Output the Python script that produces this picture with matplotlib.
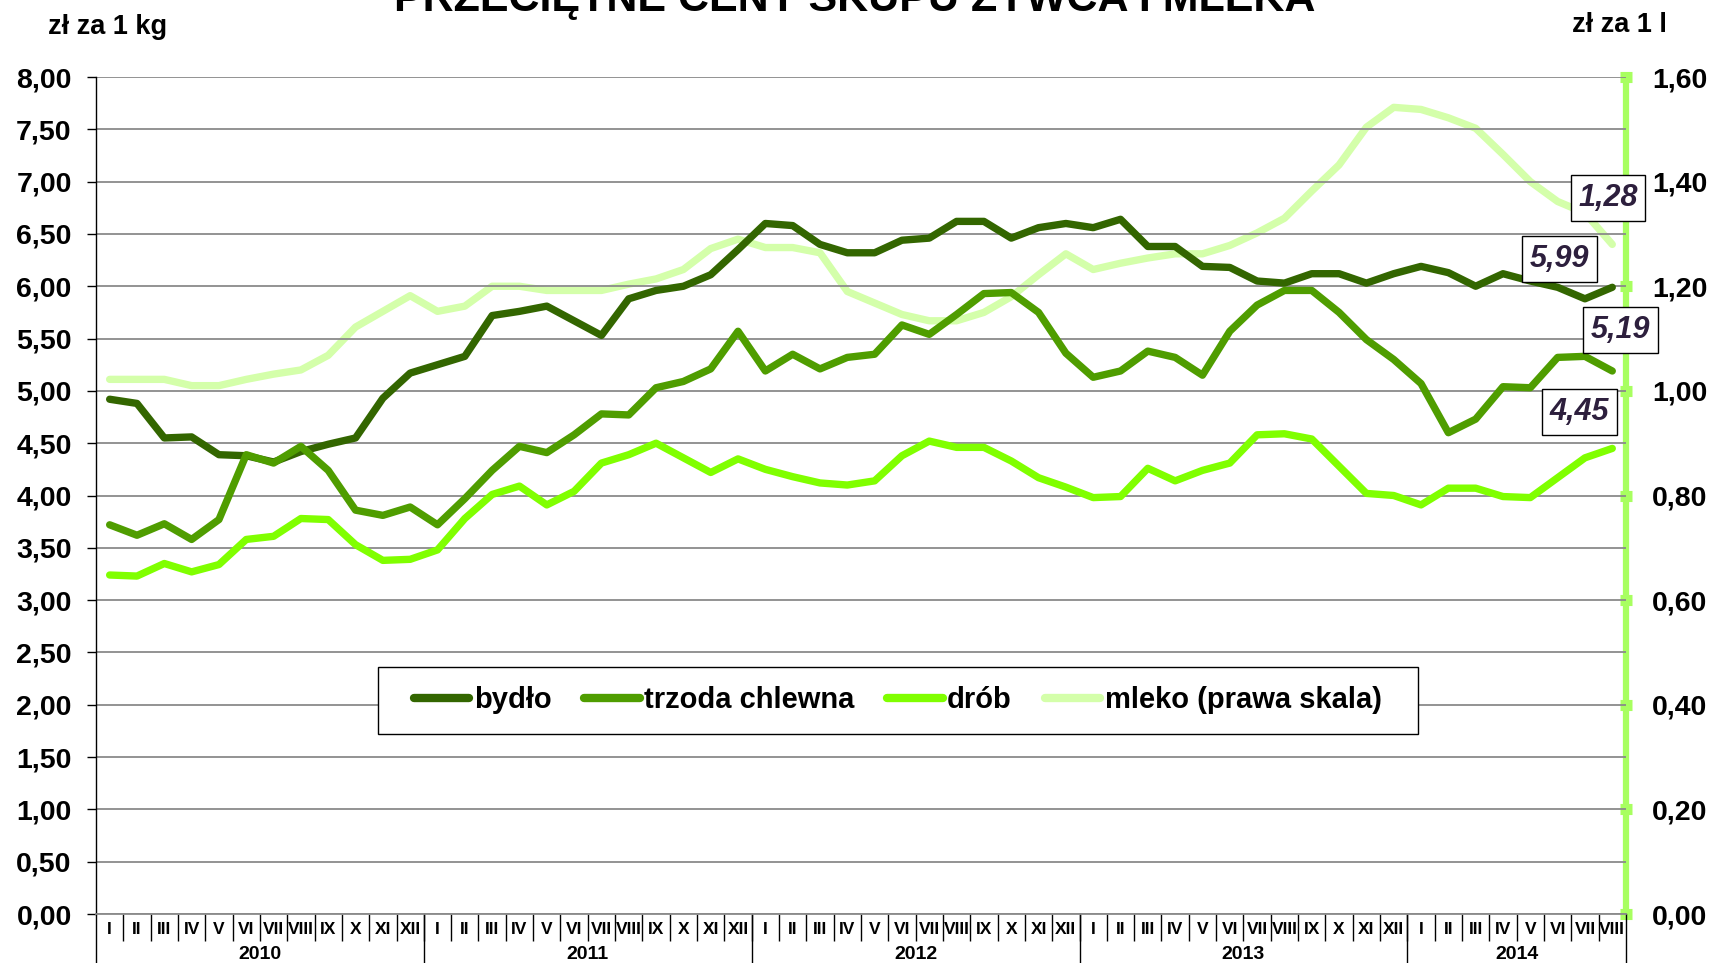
import matplotlib
matplotlib.use('Agg')
import matplotlib.pyplot as plt
from matplotlib.patches import Rectangle
from matplotlib.transforms import blended_transform_factory

plt.rcParams['font.family'] = ['Liberation Sans', 'DejaVu Sans']
plt.rcParams['font.weight'] = 'bold'

# Monthly purchase prices, 2010 I .. 2014 VIII
months = ['I', 'II', 'III', 'IV', 'V', 'VI', 'VII', 'VIII', 'IX', 'X', 'XI', 'XII']
years = ['2010', '2011', '2012', '2013', '2014']
month_labels = months * 4 + months[:8]

bydlo = [4.92, 4.88, 4.55, 4.56, 4.39, 4.38, 4.32, 4.42, 4.49, 4.55, 4.93, 5.17,
         5.25, 5.33, 5.72, 5.76, 5.81, 5.67, 5.53, 5.88, 5.96, 6.00, 6.11, 6.35,
         6.60, 6.58, 6.40, 6.32, 6.32, 6.44, 6.46, 6.62, 6.62, 6.46, 6.56, 6.60,
         6.56, 6.64, 6.38, 6.38, 6.19, 6.18, 6.05, 6.03, 6.12, 6.12, 6.03, 6.12,
         6.19, 6.13, 6.00, 6.12, 6.05, 5.99, 5.88, 5.99]
trzoda = [3.72, 3.62, 3.73, 3.58, 3.77, 4.39, 4.31, 4.47, 4.24, 3.86, 3.81, 3.89,
          3.72, 3.97, 4.24, 4.47, 4.41, 4.58, 4.78, 4.77, 5.03, 5.09, 5.21, 5.57,
          5.19, 5.35, 5.21, 5.32, 5.35, 5.63, 5.54, 5.73, 5.93, 5.94, 5.75, 5.36,
          5.13, 5.19, 5.38, 5.32, 5.15, 5.57, 5.82, 5.96, 5.96, 5.75, 5.49, 5.30,
          5.07, 4.60, 4.73, 5.04, 5.03, 5.32, 5.33, 5.19]
drob = [3.24, 3.23, 3.35, 3.27, 3.34, 3.58, 3.61, 3.78, 3.77, 3.53, 3.38, 3.39,
        3.48, 3.78, 4.01, 4.09, 3.91, 4.04, 4.31, 4.39, 4.50, 4.36, 4.22, 4.35,
        4.25, 4.18, 4.12, 4.10, 4.14, 4.38, 4.52, 4.46, 4.46, 4.33, 4.17, 4.08,
        3.98, 3.99, 4.26, 4.14, 4.24, 4.31, 4.58, 4.59, 4.54, 4.28, 4.02, 4.00,
        3.91, 4.07, 4.07, 3.99, 3.98, 4.17, 4.36, 4.45]
mleko = [1.022, 1.022, 1.022, 1.010, 1.010, 1.022, 1.032, 1.040, 1.068, 1.122, 1.152, 1.182,
         1.152, 1.162, 1.200, 1.200, 1.192, 1.192, 1.192, 1.204, 1.214, 1.232, 1.272, 1.290,
         1.274, 1.274, 1.264, 1.190, 1.168, 1.146, 1.134, 1.134, 1.150, 1.180, 1.222, 1.262,
         1.232, 1.244, 1.254, 1.262, 1.262, 1.278, 1.302, 1.330, 1.382, 1.432, 1.504, 1.542,
         1.538, 1.522, 1.502, 1.452, 1.400, 1.362, 1.340, 1.28]

c_bydlo = '#336600'
c_trzoda = '#4f9d00'
c_drob = '#80ff00'
c_mleko = '#d4ffaa'
c_axis2 = '#a8ff60'

x = list(range(len(bydlo)))

fig = plt.figure(figsize=(17.1, 9.63), dpi=100)
ax = fig.add_axes([0.05614, 0.05088, 0.8947, 0.86916])
ax2 = ax.twinx()
ax.set_zorder(ax2.get_zorder() + 1)
ax.patch.set_visible(False)

lw = 5.3
ax2.plot(x, mleko, color=c_mleko, lw=lw, solid_capstyle='round', solid_joinstyle='round')
l1, = ax.plot(x, bydlo, color=c_bydlo, lw=lw, solid_capstyle='round', solid_joinstyle='round')
l2, = ax.plot(x, trzoda, color=c_trzoda, lw=lw, solid_capstyle='round', solid_joinstyle='round')
l3, = ax.plot(x, drob, color=c_drob, lw=lw, solid_capstyle='round', solid_joinstyle='round')
l4, = ax.plot([], [], color=c_mleko, lw=lw, solid_capstyle='round')

ax.set_xlim(-0.5, len(x) - 0.5)
ax.set_ylim(0, 8)
ax2.set_ylim(0, 1.6)

# left axis
yt = [i * 0.5 for i in range(17)]
ax.set_yticks(yt)
ax.set_yticklabels([f'{v:.2f}'.replace('.', ',') for v in yt], fontsize=20.5, fontweight='bold')
ax.tick_params(axis='y', direction='out', length=6.5, width=1, color='black', pad=11)
ax.grid(axis='y', color='#8a8a8a', lw=1.3)
ax.set_axisbelow(True)

# right axis
yt2 = [i * 0.2 for i in range(9)]
ax2.set_yticks(yt2)
ax2.set_yticklabels([f'{v:.2f}'.replace('.', ',') for v in yt2], fontsize=20.5, fontweight='bold')
ax2.tick_params(axis='y', direction='inout', length=8, width=8, color=c_axis2, pad=15)

for s in ['top', 'right']:
    ax.spines[s].set_visible(False)
ax.spines['left'].set_color('black')
ax.spines['left'].set_linewidth(1)
ax.spines['bottom'].set_color('#8a8a8a')
ax.spines['bottom'].set_linewidth(1.3)
for s in ['top', 'left', 'bottom']:
    ax2.spines[s].set_visible(False)
ax2.spines['right'].set_color(c_axis2)
ax2.spines['right'].set_linewidth(4.5)

# category axis: months and years
ax.set_xticks(x)
ax.set_xticklabels(month_labels, fontsize=12.5, fontweight='bold')
ax.tick_params(axis='x', which='major', length=0, pad=5.5)
ax.set_xticks([i - 0.5 for i in range(1, len(x))], minor=True)
ax.tick_params(axis='x', which='minor', length=19.5, width=1, color='black')

trans = blended_transform_factory(ax.transData, fig.transFigure)
year_bounds = [-0.5, 11.5, 23.5, 35.5, 47.5, len(x) - 0.5]
for b in year_bounds:
    ax.plot([b, b], [0, 0.0509], transform=trans, color='black', lw=1, clip_on=False)
for k, yr in enumerate(years):
    mid = (year_bounds[k] + year_bounds[k + 1]) / 2
    ax.text(mid, 0.0085, yr, transform=trans, ha='center', va='center',
            fontsize=14, fontweight='bold')

# titles and units
fig.text(0.5, 0.9886, 'PRZECIĘTNE CENY SKUPU ŻYWCA I MLEKA', ha='center', va='baseline',
         fontsize=31, fontweight='bold')
fig.text(0.028, 0.972, 'zł za 1 kg', ha='left', va='center', fontsize=19.5, fontweight='bold')
fig.text(0.9749, 0.974, 'zł za 1 l', ha='right', va='center', fontsize=19.5, fontweight='bold')

# end-value labels
box = dict(boxstyle='square,pad=0.25', fc='white', ec='black', lw=1)
lab_kw = dict(textcoords='offset points', ha='center', va='center', fontsize=22,
              fontweight='bold', fontstyle='italic', color='#2d1f3d', bbox=box,
              annotation_clip=False, zorder=10)
ax.annotate(f'{mleko[-1]:.2f}'.replace('.', ','), xy=(x[-1], mleko[-1] * 5),
            xytext=(-3, 33.5), **lab_kw)
ax.annotate(f'{bydlo[-1]:.2f}'.replace('.', ','), xy=(x[-1], bydlo[-1]),
            xytext=(-38, 20.4), **lab_kw)
ax.annotate(f'{trzoda[-1]:.2f}'.replace('.', ','), xy=(x[-1], trzoda[-1]),
            xytext=(5.8, 29.5), **lab_kw)
ax.annotate(f'{drob[-1]:.2f}'.replace('.', ','), xy=(x[-1], drob[-1]),
            xytext=(-23.8, 26.3), **lab_kw)

# legend with its own frame (wider horizontal padding as in the original)
ax.add_patch(Rectangle((378 / 1710, 1 - 734 / 963), 1040 / 1710, 67 / 963,
                       transform=fig.transFigure, fc='white', ec='black',
                       lw=1, zorder=4.5, clip_on=False))
leg = ax.legend([l1, l2, l3, l4], ['bydło', 'trzoda chlewna', 'drób', 'mleko (prawa skala)'],
                loc='center', bbox_to_anchor=(0.525, 0.2726), bbox_transform=fig.transFigure,
                ncol=4, handlelength=1.9, handletextpad=0.15,
                columnspacing=1.13, frameon=False,
                prop={'weight': 'bold', 'size': 21})
leg.set_zorder(6)
for h in leg.legend_handles:
    h.set_linewidth(6)

fig.savefig('out.png', dpi=100)
